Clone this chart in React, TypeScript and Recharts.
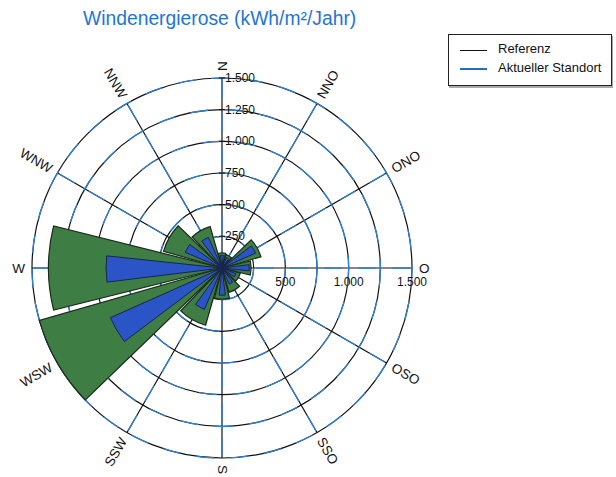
import { RadialBarChart, RadialBar, PolarAngleAxis, PolarRadiusAxis, PolarGrid } from "recharts";

// Windrichtungen im Uhrzeigersinn ab Nord (12 Sektoren à 30°)
const directions = ["N", "NNO", "ONO", "O", "OSO", "SSO", "S", "SSW", "WSW", "W", "WNW", "NNW"];
const referenz = [120, 110, 320, 230, 150, 200, 245, 470, 1500, 1370, 480, 340];
const standort = [100, 90, 290, 215, 120, 140, 215, 355, 965, 915, 315, 265];
const radiusTicks = [250, 500, 750, 1000, 1250, 1500];
const eastTicks = [500, 1000, 1500];

const CX = 222;
const CY = 268;
const R = 190;
const MAX = 1500;
const FONT = "'Liberation Sans', Arial, sans-serif";

const data = directions.map((dir, i) => ({ dir, referenz: referenz[i], standort: standort[i] }));
const gridAngles = directions.map((_, i) => 90 - i * 30);

function fmt(v: number) {
  if (v < 1000) return String(v);
  return `${Math.floor(v / 1000)}.${String(v % 1000).padStart(3, "0")}`;
}

function DirTick(props: any) {
  const { index } = props;
  const compass = index * 30;
  const rad = (compass * Math.PI) / 180;
  const rl = R + 7;
  const x = CX + rl * Math.sin(rad);
  const y = CY - rl * Math.cos(rad);
  const right = compass <= 180;
  const rot = right ? compass - 90 : compass - 270;
  return (
    <text
      x={x}
      y={y}
      textAnchor={right ? "start" : "end"}
      dominantBaseline="central"
      transform={`rotate(${rot}, ${x}, ${y})`}
      fontSize={13.5}
      fontFamily={FONT}
      fill="#111"
    >
      {directions[index]}
    </text>
  );
}

function RadiusTick(props: any) {
  const { x, y, payload } = props;
  const v = payload.value as number;
  const r = payload.coordinate as number;
  return (
    <g>
      <line x1={x - 3} y1={y} x2={x + 3} y2={y} stroke="#111" />
      <text x={x + 3} y={y} dominantBaseline="central" fontSize={12} fontFamily={FONT} fill="#111">
        {fmt(v)}
      </text>
      {eastTicks.includes(v) && (
        <text x={x + r} y={y + r + 14} textAnchor="middle" dominantBaseline="central" fontSize={12} fontFamily={FONT} fill="#111">
          {fmt(v)}
        </text>
      )}
    </g>
  );
}

export default function App() {
  return (
    <div style={{ position: "absolute", left: 0, top: 0, width: 616, height: 477, background: "#fff", fontFamily: FONT, overflow: "hidden" }}>
      <div style={{ position: "absolute", left: 83, top: 8, fontSize: 19.3, color: "#1f74d6", whiteSpace: "nowrap" }}>
        Windenergierose (kWh/m²/Jahr)
      </div>
      <div
        style={{
          position: "absolute", left: 448, top: 34, width: 162, height: 50,
          border: "1.5px solid #222", boxShadow: "1px 2px 0 #aaa", fontSize: 13, color: "#111",
        }}
      >
        <div style={{ position: "absolute", left: 11, top: 15, width: 27, borderTop: "1px solid #111" }} />
        <div style={{ position: "absolute", left: 49, top: 6 }}>Referenz</div>
        <div style={{ position: "absolute", left: 11, top: 33, width: 27, borderTop: "2px solid #1f6fd0" }} />
        <div style={{ position: "absolute", left: 49, top: 25, whiteSpace: "nowrap" }}>Aktueller Standort</div>
      </div>
      <RadialBarChart
        width={616}
        height={477}
        data={data}
        layout="centric"
        cx={CX}
        cy={CY}
        innerRadius={0}
        outerRadius={R}
        startAngle={75}
        endAngle={-285}
        margin={{ top: 0, right: 0, bottom: 0, left: 0 }}
        style={{ position: "absolute", left: 0, top: 0 }}
      >
        <PolarGrid gridType="circle" polarAngles={gridAngles} stroke="#111" strokeWidth={1.2} />
        <PolarGrid gridType="circle" polarAngles={gridAngles} stroke="#2f80dc" strokeWidth={1.3} strokeDasharray="18 16" />
        <PolarAngleAxis angleAxisId="ref" dataKey="dir" type="category" tick={<DirTick />} axisLine={false} tickLine={false} />
        <PolarAngleAxis angleAxisId="cur" dataKey="dir" type="category" tick={false} axisLine={false} tickLine={false} />
        <PolarRadiusAxis type="number" domain={[0, MAX]} ticks={radiusTicks} angle={90} axisLine={false} tick={<RadiusTick />} />
        <RadialBar angleAxisId="ref" dataKey="referenz" barSize={28} fill="#3e7e45" stroke="#1b2a1c" strokeWidth={1.2} isAnimationActive={false} />
        <RadialBar angleAxisId="cur" dataKey="standort" barSize={13} fill="#2b55c6" stroke="#17254a" strokeWidth={1} isAnimationActive={false} />
      </RadialBarChart>
    </div>
  );
}
